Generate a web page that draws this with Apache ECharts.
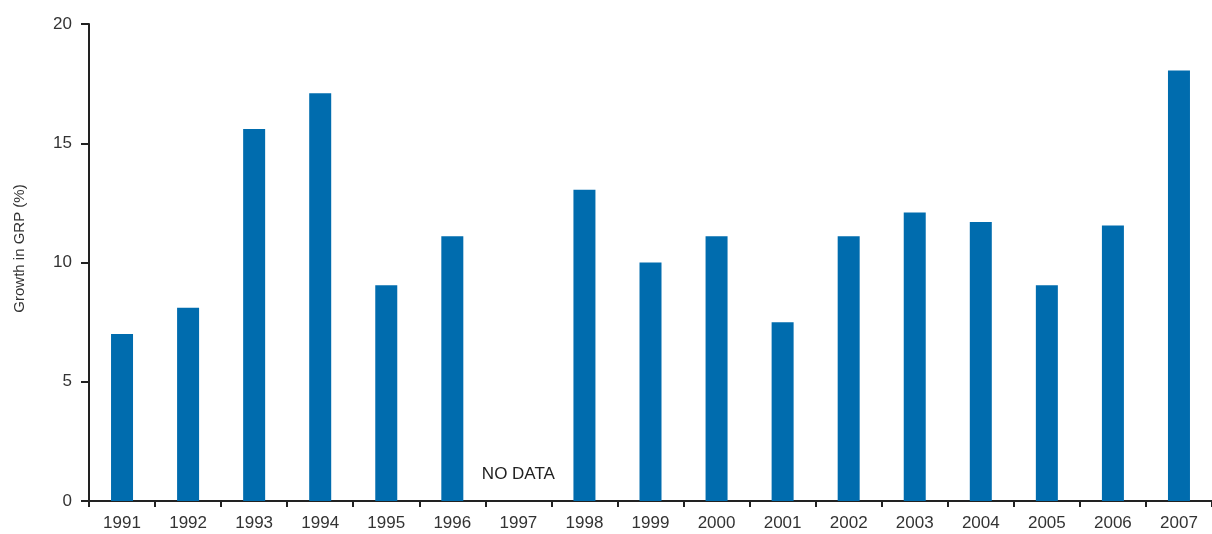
<!DOCTYPE html>
<html>
<head>
<meta charset="utf-8">
<script src="https://cdn.jsdelivr.net/npm/echarts@6/dist/echarts.min.js"></script>
<style>
  html, body { margin: 0; padding: 0; background: #fff; }
  #chart { width: 1212px; height: 534px; }
</style>
</head>
<body>
<div id="chart"></div>
<script>
const years = ['1991', '1992', '1993', '1994', '1995', '1996', '1997', '1998', '1999',
  '2000', '2001', '2002', '2003', '2004', '2005', '2006', '2007']
// 1997 has no data
const growth = [7.0, 8.1, 15.6, 17.1, 9.05, 11.1, null, 13.05, 10.0,
  11.1, 7.5, 11.1, 12.1, 11.7, 9.05, 11.55, 18.05]
const yTicks = [0, 5, 10, 15, 20]
const noDataNote = [['1997', 1.1]]

const axisColor = '#222'
const textColor = '#333'
const font = 'Liberation Sans'

const chart = echarts.init(document.getElementById('chart'), null, { renderer: 'canvas' })

chart.setOption({
  backgroundColor: '#fff',
  animation: false,
  grid: { left: 89, right: -10, top: 24, bottom: 33 },
  xAxis: {
    type: 'category',
    data: years,
    axisLine: { lineStyle: { color: axisColor, width: 2 } },
    axisTick: { show: true, length: 6, lineStyle: { color: axisColor, width: 2 } },
    axisLabel: { color: textColor, fontSize: 17, fontFamily: font, margin: 14 }
  },
  yAxis: {
    type: 'value',
    min: yTicks[0],
    max: yTicks[yTicks.length - 1],
    interval: 5,
    name: 'Growth in GRP (%)',
    nameLocation: 'middle',
    nameGap: 62,
    nameTextStyle: { color: textColor, fontSize: 15, fontFamily: font, padding: [0, 0, 0, 28] },
    axisLine: { show: true, lineStyle: { color: axisColor, width: 2 } },
    axisTick: { show: true, length: 8, lineStyle: { color: axisColor, width: 2 } },
    axisLabel: { color: textColor, fontSize: 17, fontFamily: font, margin: 17 },
    splitLine: { show: false }
  },
  series: [{
    type: 'bar',
    data: growth,
    barWidth: 22,
    itemStyle: { color: '#006cae' }
  }, {
    type: 'scatter',
    data: noDataNote,
    symbolSize: 0,
    silent: true,
    itemStyle: { opacity: 1 },
    label: {
      show: true,
      position: 'inside',
      formatter: 'NO DATA',
      color: '#222',
      opacity: 1,
      fontSize: 17,
      fontFamily: font
    }
  }]
})
</script>
</body>
</html>
